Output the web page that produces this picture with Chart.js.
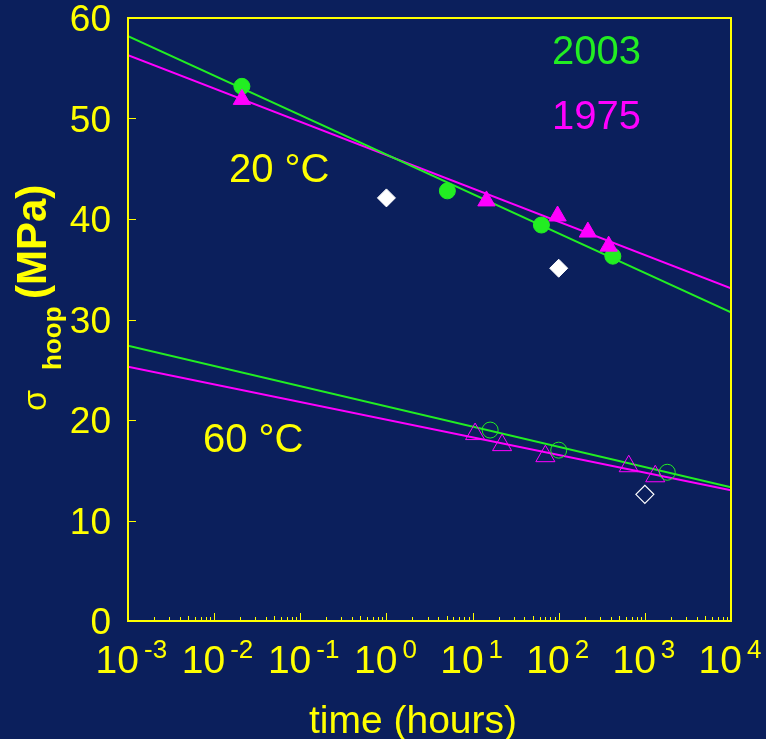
<!DOCTYPE html>
<html>
<head>
<meta charset="utf-8">
<script src="https://cdn.jsdelivr.net/npm/chart.js@4/dist/chart.umd.min.js"></script>
<style>
  html, body { margin: 0; padding: 0; background: #0b1f5c; }
  #wrap { width: 766px; height: 739px; }
</style>
</head>
<body>
<div id="wrap"><canvas id="hoopChart"></canvas></div>
<script>
// --- data ---
const xTicks = [1e-3, 1e-2, 1e-1, 1e0, 1e1, 1e2, 1e3, 1e4];
const xExponents = ["-3", "-2", "-1", "0", "1", "2", "3", "4"];
const yTicks = [0, 10, 20, 30, 40, 50, 60];

// 20 °C
const t20_2003 = [0.021, 5.1, 63, 425];
const s20_2003 = [53.2, 42.8, 39.4, 36.3];
const t20_1975 = [0.021, 14.5, 97, 218, 380];
const s20_1975 = [51.9, 41.8, 40.3, 38.7, 37.3];

// white diamonds (filled at 20 °C, open at 60 °C)
const tDiamond20 = [1, 100];
const sDiamond20 = [42.1, 35.1];
const tDiamond60 = [1000];
const sDiamond60 = [12.6];

// 60 °C
const t60_2003 = [16, 100, 1820];
const s60_2003 = [19.0, 17.0, 14.8];
const t60_1975 = [10.7, 22, 70, 650, 1320];
const s60_1975 = [18.6, 17.5, 16.4, 15.4, 14.4];

// fitted lines (end points at the axis limits)
const lineEnds = [1e-3, 1e4];
const fit20_2003 = [58.2, 30.7];
const fit20_1975 = [56.3, 33.1];
const fit60_2003 = [27.4, 13.3];
const fit60_1975 = [25.3, 13.0];

const BG = "#0b1f5c";
const YEL = "#ffff00";
const GRN = "#22ee22";
const MAG = "#ff00ff";
const FONT = "'Liberation Sans', Arial, sans-serif";

function pts(xs, ys) {
  return xs.map((x, i) => ({ x: x, y: ys[i] }));
}

function fitLine(ys, color) {
  return {
    data: pts(lineEnds, ys), showLine: true, borderColor: color, borderWidth: 2,
    pointRadius: 0, order: 2
  };
}

// background, box, ticks and all the text
const decor = {
  id: "decor",
  beforeDraw(chart) {
    const ctx = chart.ctx;
    ctx.save();
    ctx.fillStyle = BG;
    ctx.fillRect(0, 0, chart.width, chart.height);
    ctx.restore();
  },
  afterDraw(chart) {
    const ctx = chart.ctx;
    const a = chart.chartArea;
    const xs = chart.scales.x, ys = chart.scales.y;
    ctx.save();
    ctx.strokeStyle = YEL;
    ctx.lineWidth = 2;
    ctx.strokeRect(a.left, a.top, a.right - a.left, a.bottom - a.top);

    // x ticks: majors and minors (2..9) inside the box
    ctx.lineWidth = 1;
    ctx.beginPath();
    for (let d = -3; d < 4; d++) {
      for (let m = 2; m <= 9; m++) {
        const px = Math.round(xs.getPixelForValue(m * Math.pow(10, d))) + 0.5;
        const len = (m === 5) ? 5 : 4;
        ctx.moveTo(px, a.bottom);
        ctx.lineTo(px, a.bottom - len);
      }
      const pm = Math.round(xs.getPixelForValue(Math.pow(10, d + 1))) + 0.5;
      ctx.moveTo(pm, a.bottom);
      ctx.lineTo(pm, a.bottom - 8);
    }
    // y ticks
    yTicks.forEach(v => {
      const py = Math.round(ys.getPixelForValue(v)) + 0.5;
      ctx.moveTo(a.left, py);
      ctx.lineTo(a.left + 8, py);
    });
    ctx.stroke();

    // y tick labels
    ctx.fillStyle = YEL;
    ctx.font = "37px " + FONT;
    ctx.textAlign = "right";
    ctx.textBaseline = "middle";
    yTicks.forEach(v => {
      ctx.fillText(String(v), 111, ys.getPixelForValue(v) + 3);
    });

    // x tick labels, 10 with superscript exponent
    ctx.textBaseline = "alphabetic";
    xTicks.forEach((v, i) => {
      const px = xs.getPixelForValue(v);
      ctx.font = "39px " + FONT;
      ctx.textAlign = "right";
      ctx.fillText("10", px + 11, 673);
      ctx.font = "26px " + FONT;
      ctx.textAlign = "left";
      ctx.fillText(xExponents[i], px + 16, 658);
    });

    // x title
    ctx.font = "39px " + FONT;
    ctx.textAlign = "center";
    ctx.fillText("time (hours)", 413, 733);

    // y title: σ hoop (MPa), rotated
    ctx.save();
    ctx.translate(46, 411);
    ctx.rotate(-Math.PI / 2);
    ctx.textAlign = "left";
    ctx.font = "34px " + FONT;
    ctx.fillText("σ", 0, 0);
    ctx.font = "bold 26px " + FONT;
    ctx.fillText("hoop", 41, 15);
    ctx.font = "bold 42px " + FONT;
    ctx.fillText("(MPa)", 112, 0);
    ctx.restore();

    // annotations
    ctx.font = "40px " + FONT;
    ctx.textAlign = "left";
    ctx.fillStyle = GRN;
    ctx.fillText("2003", 552, 64);
    ctx.fillStyle = MAG;
    ctx.fillText("1975", 552, 129);
    ctx.fillStyle = YEL;
    ctx.fillText("20 °C", 229, 182);
    ctx.fillText("60 °C", 203, 452);
    ctx.restore();
  }
};

new Chart(document.getElementById("hoopChart"), {
  type: "scatter",
  data: {
    datasets: [
      { data: pts(t20_2003, s20_2003), pointStyle: "circle", pointRadius: 8,
        backgroundColor: GRN, borderColor: GRN, borderWidth: 1, order: 1 },
      { data: pts(t20_1975, s20_1975), pointStyle: "triangle", pointRadius: 10,
        backgroundColor: MAG, borderColor: MAG, borderWidth: 1, order: 0 },
      { data: pts(tDiamond20, sDiamond20), pointStyle: "rectRot", pointRadius: 9,
        backgroundColor: "#ffffff", borderColor: "#ffffff", borderWidth: 1, order: 1 },
      { data: pts(tDiamond60, sDiamond60), pointStyle: "rectRot", pointRadius: 9,
        backgroundColor: "rgba(0,0,0,0)", borderColor: "#ffffff", borderWidth: 1.2, order: 1 },
      { data: pts(t60_2003, s60_2003), pointStyle: "circle", pointRadius: 8,
        backgroundColor: "rgba(0,0,0,0)", borderColor: GRN, borderWidth: 1, order: 1 },
      { data: pts(t60_1975, s60_1975), pointStyle: "triangle", pointRadius: 11,
        backgroundColor: "rgba(0,0,0,0)", borderColor: MAG, borderWidth: 1, order: 1 },
      fitLine(fit20_2003, GRN),
      fitLine(fit20_1975, MAG),
      fitLine(fit60_2003, GRN),
      fitLine(fit60_1975, MAG)
    ]
  },
  options: {
    responsive: true,
    maintainAspectRatio: false,
    animation: false,
    layout: { padding: { left: 128, right: 35, top: 18, bottom: 118 } },
    plugins: { legend: { display: false }, tooltip: { enabled: false } },
    scales: {
      x: {
        type: "logarithmic", min: 1e-3, max: 1e4,
        ticks: { display: false }, grid: { display: false, drawTicks: false },
        border: { display: false }
      },
      y: {
        type: "linear", min: 0, max: 60,
        ticks: { display: false, stepSize: 10 }, grid: { display: false, drawTicks: false },
        border: { display: false }
      }
    }
  },
  plugins: [decor]
});
</script>
</body>
</html>
